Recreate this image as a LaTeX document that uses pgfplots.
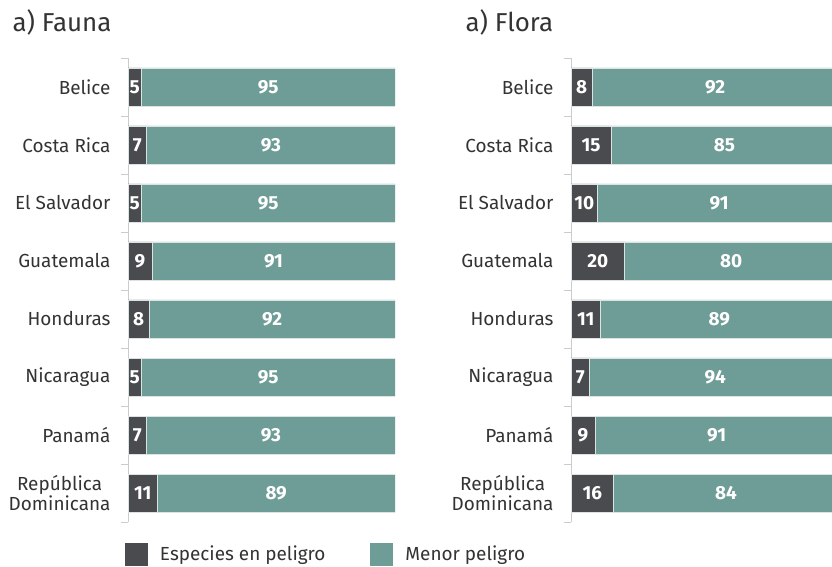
\documentclass[border=0pt]{standalone}
\usepackage{pgfplots}
\pgfplotsset{compat=1.18}
\usepackage{pgfplotstable}
\usepackage{fontspec}
\setmainfont{Fira Sans}
\definecolor{cdark}{HTML}{4A4B4E}
\definecolor{cteal}{HTML}{6E9C97}
\definecolor{caxis}{HTML}{CCCCCC}
\definecolor{cedge}{HTML}{DCE4E3}

\pgfplotstableread{
y a b
0 5 95
1 7 93
2 5 95
3 9 91
4 8 92
5 5 95
6 7 93
7 11 89
}\fauna
\pgfplotstableread{
y a b
0 8 92
1 15 85
2 10 91
3 20 80
4 11 89
5 7 94
6 9 91
7 16 84
}\flora

\pgfplotsset{
  panel/.style={
    scale only axis, width=267bp, height=464bp,
    xmin=0, xmax=100,
    ymin=-0.5, ymax=7.5, y dir=reverse,
    hide x axis,
    axis y line*=left,
    y axis line style={draw=caxis, line width=0.8bp},
    ytick={0,...,7},
    yticklabels={Belice,Costa Rica,El Salvador,Guatemala,Honduras,Nicaragua,Panamá,{República\\Dominicana}},
    major tick length=0pt,
    minor ytick={-0.5,0.5,...,7.5},
    minor tick length=7bp,
    tick align=outside,
    minor tick style={draw=caxis, line width=0.8bp},
    yticklabel style={font=\fontsize{19}{21}\selectfont, align=center, text=black!80, xshift=-14bp},
    bar width=38bp,
  },
  labels/.style={
    scale only axis, width=267bp, height=464bp,
    xmin=0, xmax=100,
    ymin=-0.5, ymax=7.5, y dir=reverse,
    hide axis,
  },
  lab/.style={draw=none, mark=none, nodes near coords, point meta=explicit,
    every node near coord/.style={anchor=center, text=white, font=\fontsize{19}{21}\selectfont\bfseries},
    nodes near coords={\pgfmathprintnumber[assume math mode=true]{\pgfplotspointmeta}}},
}

\begin{document}
\begin{tikzpicture}[x=1bp,y=1bp]
\path[use as bounding box] (0,0) rectangle (832,567);
\node[anchor=base west, font=\fontsize{26}{30}\selectfont, text=black!80] at (9,535) {a) Fauna};
\node[anchor=base west, font=\fontsize{26}{30}\selectfont, text=black!80] at (462,535) {a) Flora};

% Fauna
\begin{axis}[panel, at={(128bp,45bp)}, anchor=south west, xbar stacked,
  legend columns=2,
  legend style={draw=none, at={(rel axis cs:-0.012,-0.069)}, anchor=west, inner sep=0pt,
    font=\fontsize{19}{21}\selectfont, text=black!80,
    /tikz/every odd column/.append style={column sep=10bp},
    /tikz/every even column/.append style={column sep=43bp}},
  legend image code/.code={\path[#1, draw=none] (0bp,-11.5bp) rectangle (23bp,11.5bp);},
  ]
\addplot[fill=cdark, draw=cedge, line width=0.8bp] table[x=a, y=y] {\fauna};
\addlegendentry{Especies en peligro}
\addplot[fill=cteal, draw=cedge, line width=0.8bp] table[x=b, y=y] {\fauna};
\addlegendentry{Menor peligro}
\end{axis}
\begin{axis}[labels, at={(128bp,45bp)}, anchor=south west]
\addplot[lab] table[x expr=\thisrow{a}/2, y=y, meta=a] {\fauna};
\addplot[lab] table[x expr=\thisrow{a}+\thisrow{b}/2, y=y, meta=b] {\fauna};
\end{axis}

% Flora
\begin{axis}[panel, at={(571bp,45bp)}, anchor=south west, xbar stacked,
  width=261bp, xmax=97.75]
\addplot[fill=cdark, draw=cedge, line width=0.8bp] table[x=a, y=y] {\flora};
\addplot[fill=cteal, draw=cedge, line width=0.8bp] table[x=b, y=y] {\flora};
\end{axis}
\begin{axis}[labels, at={(571bp,45bp)}, anchor=south west]
\addplot[lab] table[x expr=\thisrow{a}/2, y=y, meta=a] {\flora};
\addplot[lab] table[x expr=\thisrow{a}+\thisrow{b}/2, y=y, meta=b] {\flora};
\end{axis}
\end{tikzpicture}
\end{document}
